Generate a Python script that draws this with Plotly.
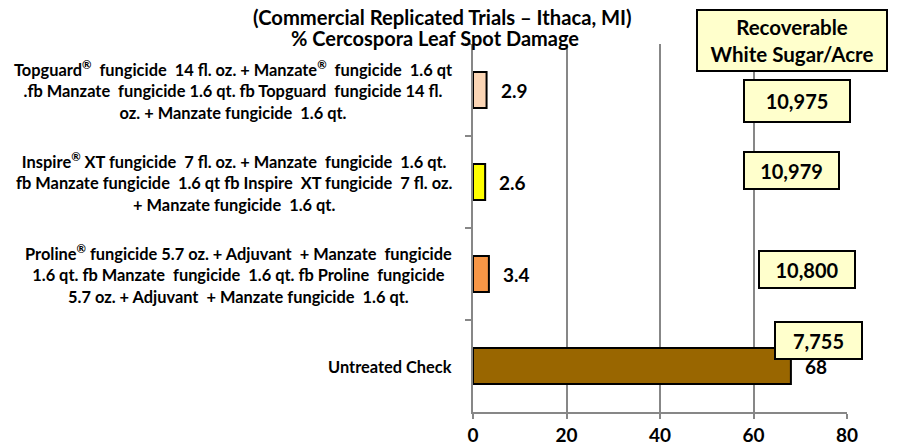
import plotly.graph_objects as go

# ---------------- data ----------------
treatments = [
    "Topguard<sup>®</sup>  fungicide  14 fl. oz. + Manzate<sup>®</sup>  fungicide  1.6 qt<br>.fb Manzate  fungicide 1.6 qt. fb Topguard  fungicide 14 fl.<br>oz. + Manzate fungicide  1.6 qt.",
    "Inspire<sup>®</sup> XT fungicide  7 fl. oz. + Manzate  fungicide  1.6 qt.<br>fb Manzate fungicide  1.6 qt fb Inspire  XT fungicide  7 fl. oz.<br>+ Manzate fungicide  1.6 qt.",
    "Proline<sup>®</sup> fungicide 5.7 oz. + Adjuvant  + Manzate  fungicide<br>1.6 qt. fb Manzate  fungicide  1.6 qt. fb Proline  fungicide<br>5.7 oz. + Adjuvant  + Manzate fungicide  1.6 qt.",
    "Untreated Check",
]
leaf_spot_damage = [2.9, 2.6, 3.4, 68]
damage_labels = ["2.9", "2.6", "3.4", "68"]
sugar_per_acre = [10975, 10979, 10800, 7755]
bar_colors = ["#FBD5B5", "#FFFF00", "#F79646", "#996600"]
x_ticks = [0, 20, 40, 60, 80]

title_lines = ["(Commercial Replicated Trials – Ithaca, MI)", "% Cercospora Leaf Spot Damage"]
sugar_header = "Recoverable<br>White Sugar/Acre"

# ---------------- style / placement ----------------
FONT = "Lato"
OFF = 8  # page body margin
box_x = [69.3, 68.1, 71.4, 73.9]          # box centres (data units)
box_yshift = [-11, 12, 5, 26]             # px offsets from category centre
box_w = [104, 93, 94, 85]
box_h = [40, 35, 35, 35]


def b(s):
    return "<br>".join(f"<b>{p}</b>" for p in s.split("<br>"))


fig = go.Figure()
fig.add_trace(go.Bar(
    y=treatments, x=leaf_spot_damage, orientation="h",
    width=0.39,
    marker=dict(color=bar_colors, line=dict(color="black", width=2)),
    hoverinfo="x+y",
))

ann = []
# category labels (centred lines, block right-aligned)
for t in treatments:
    ann.append(dict(x=0, y=t, xref="x", yref="y", text=b(t), showarrow=False,
                    xanchor="right", yanchor="middle", align="center", xshift=-19,
                    font=dict(family=FONT, size=16.4, color="black")))
# value labels
for t, v, lab in zip(treatments, leaf_spot_damage, damage_labels):
    ann.append(dict(x=v, y=t, xref="x", yref="y", text=b(lab), showarrow=False,
                    xanchor="left", yanchor="middle", xshift=12,
                    font=dict(family=FONT, size=19, color="black")))
# sugar boxes
for t, s, bx, dy, w, h in zip(treatments, sugar_per_acre, box_x, box_yshift, box_w, box_h):
    ann.append(dict(x=bx, y=t, xref="x", yref="y", text=b(f"{s:,}"), showarrow=False,
                    xanchor="center", yanchor="middle", yshift=dy,
                    width=w, height=h, bgcolor="#FFFFCC", bordercolor="black",
                    borderwidth=2, borderpad=0,
                    font=dict(family=FONT, size=20, color="black")))
# header box
ann.append(dict(x=792, y=40.5, xref="paper", yref="paper", text=b(sugar_header),
                showarrow=False, xanchor="center", yanchor="middle",
                width=188, height=59, bgcolor="#FFFFCC", bordercolor="black",
                borderwidth=2, borderpad=0,
                font=dict(family=FONT, size=20.5, color="black")))
# title lines
ann.append(dict(x=442, y=17, xref="paper", yref="paper", text=b(title_lines[0]),
                showarrow=False, xanchor="center", yanchor="middle",
                font=dict(family=FONT, size=20.2, color="black")))
ann.append(dict(x=435, y=38, xref="paper", yref="paper", text=b(title_lines[1]),
                showarrow=False, xanchor="center", yanchor="middle",
                font=dict(family=FONT, size=20, color="black")))

# plot area in page pixels: x 473..847, y 44..412
W, H = 904, 445
L = 473 - OFF
R = W - (847 - OFF)
T = 44 - OFF
B = H - (412 - OFF)
pw, ph = W - L - R, H - T - B
for a in ann:
    if a["xref"] == "paper":
        a["x"] = (a["x"] - OFF - L) / pw
        a["y"] = (H - B - (a["y"] - OFF)) / ph

fig.update_layout(
    width=W, height=H,
    margin=dict(l=L, r=R, t=T, b=B, pad=0, autoexpand=False),
    plot_bgcolor="white", paper_bgcolor="white",
    showlegend=False,
    annotations=ann,
    xaxis=dict(range=[0, 80], tickvals=x_ticks, ticktext=[f"<b>{v}</b>" for v in x_ticks],
               showgrid=True, gridcolor="#878787", gridwidth=2,
               showline=True, linecolor="#878787", linewidth=2,
               ticks="outside", ticklen=5, tickcolor="#878787", tickwidth=2,
               ticklabelstandoff=0, zeroline=False, automargin=False,
               tickfont=dict(family=FONT, size=19, color="black")),
    yaxis=dict(autorange="reversed", showticklabels=False, tickson="boundaries",
               ticks="outside", ticklen=6, tickcolor="#878787", tickwidth=2,
               showline=True, linecolor="#878787", linewidth=2, showgrid=False,
               zeroline=False, automargin=False),
    bargap=0.6,
)

fig.write_html("out.html")
